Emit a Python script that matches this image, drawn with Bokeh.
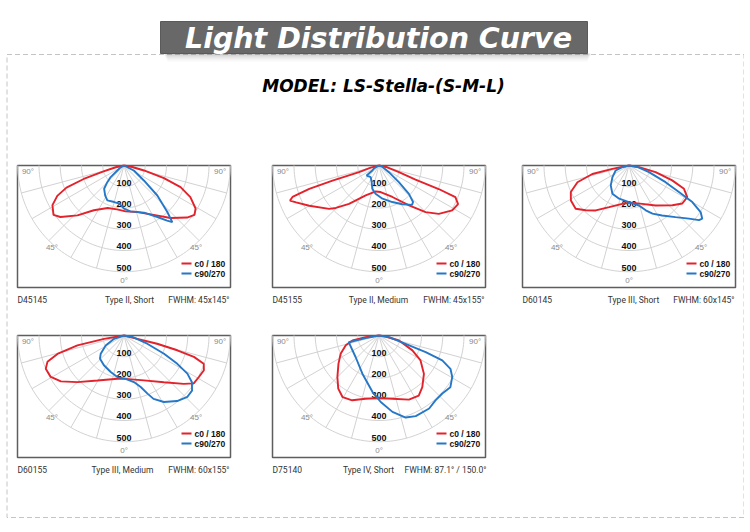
import math
import numpy as np
from bokeh.plotting import figure
from bokeh.models import Range1d
from bokeh.core.properties import value
from bokeh.embed import file_html
from bokeh.resources import INLINE

# ---------------- data ----------------
TITLE = "Light Distribution Curve"
SUBTITLE = "MODEL: LS-Stella-(S-M-L)"
RING_VALUES = [100, 200, 300, 400, 500]
RING_LABELS = ["100", "200", "300", "400", "500"]
RADIAL_ANGLES = [-75, -60, -45, -30, -15, 15, 30, 45, 60, 75]
SERIES_NAMES = ["c0 / 180", "c90/270"]

CODES = ["D45145", "D45155", "D60145", "D60155", "D75140"]
TYPES = ["Type II, Short", "Type II, Medium", "Type III, Short", "Type III, Medium", "Type IV, Short"]
FWHM = ["FWHM:  45x145°", "FWHM:  45x155°", "FWHM:  60x145°", "FWHM:  60x155°", "FWHM: 87.1° / 150.0°"]

# intensity curves: angle from nadir (deg, + = right) and candela
P1_C0_ANG = [-90, -78, -74, -71.5, -69, -65.5, -61, -55, -51, -43, -34, -21, -9, 2, 16, 31, 41.5, 50.5, 55, 59, 64.5, 69, 72.5, 76, 80, 90]
P1_C0_CD = [0, 40, 100, 200, 290, 345, 385, 405, 385, 321, 254, 214, 209, 216, 228, 271, 330, 385, 405, 393, 346, 285, 197, 97, 40, 0]
P1_C90_ANG = [-90, -60, -53, -49, -45, -40.5, -32, -25.5, -15, -7, 0, 8, 23, 33, 38, 40.5, 43, 48, 53, 63, 90]
P1_C90_CD = [0, 20, 39, 83, 111, 144, 167, 182, 178, 181, 203, 218, 241, 289, 329, 350, 299, 211, 117, 52, 0]

P2_C0_ANG = [-90, -76, -71.5, -72, -71.5, -70, -68.5, -66, -60, -49, -45.5, -38, -24, -7, 3.5, 23, 37, 45, 51, 58.5, 64, 67.5, 68.5, 69, 71.5, 78, 90]
P2_C0_CD = [0, 40, 99, 230, 346, 433, 450, 427, 379, 311, 285, 229, 154, 123, 125, 161, 235, 310, 362, 404, 414, 389, 302, 184, 99, 40, 0]
P2_C90_ANG = [-90, -60, -53, -51, -35.5, -24, -16, -7, 6, 20, 31, 40, 43, 46.5, 50, 56, 70, 90]
P2_C90_CD = [0, 25, 39, 75, 67, 85, 114, 134, 157, 183, 213, 242, 235, 194, 122, 56, 15, 0]

P3_C0_ANG = [-90, -78.5, -77, -72, -65.5, -59, -51, -44, -36.5, -25.5, -10, 2.5, 19, 33.5, 47.5, 54.5, 61.5, 67, 71, 76, 80.5, 90]
P3_C0_CD = [0, 80, 177, 255, 301, 319, 323, 293, 263, 217, 183, 175, 191, 226, 277, 308, 312, 281, 215, 129, 48, 0]
P3_C90_ANG = [-90, -75, -69.5, -55, -42.5, -30.5, -16.5, 0, 14, 20.5, 26, 33.5, 42, 48.5, 52, 54, 57, 60, 62, 65.5, 71.5, 80, 90]
P3_C90_CD = [0, 35, 67, 95, 127, 154, 163, 172, 194, 225, 252, 282, 327, 377, 418, 426, 402, 344, 266, 189, 99, 40, 0]

P4_C0_ANG = [-90, -80.5, -78, -74.5, -71, -67, -60.5, -54, -45, -30.5, -8.5, 2, 24, 40.5, 51, 55.5, 61, 66.5, 70.5, 73, 74.5, 76, 76, 90]
P4_C0_CD = [0, 95, 224, 325, 381, 400, 396, 367, 310, 246, 206, 204, 231, 289, 362, 398, 403, 410, 398, 344, 260, 161, 65, 0]
P4_C90_ANG = [-90, -71.5, -61.5, -52, -46, -34, -20, -9, 2, 12, 18, 22, 25, 31, 39, 46, 51, 55.5, 59, 62, 65.5, 70.5, 80, 90]
P4_C90_CD = [0, 49, 98, 139, 157, 169, 183, 198, 204, 224, 255, 295, 329, 365, 397, 415, 412, 388, 348, 284, 207, 116, 40, 0]

P5_C0_ANG = [-90, -83, -79.5, -73.5, -64.5, -55, -45, -37.5, -30.5, -22.5, -12, 0, 12, 25, 33.5, 40, 49.5, 59, 66, 76, 81.5, 90]
P5_C0_CD = [0, 63, 127, 163, 200, 233, 277, 315, 337, 330, 304, 294, 304, 333, 339, 317, 278, 228, 172, 97, 32, 0]
P5_C90_ANG = [-90, -79, -77.5, -47, -23.5, -6.5, 1.5, 10, 18, 24.5, 34.5, 41, 47.5, 54, 60.5, 65, 68.5, 70.5, 72.5, 80.5, 90]
P5_C90_CD = [0, 64, 146, 150, 196, 268, 313, 365, 406, 417, 417, 405, 404, 415, 396, 371, 320, 233, 131, 48, 0]

CURVES = [
    ((P1_C0_ANG, P1_C0_CD), (P1_C90_ANG, P1_C90_CD)),
    ((P2_C0_ANG, P2_C0_CD), (P2_C90_ANG, P2_C90_CD)),
    ((P3_C0_ANG, P3_C0_CD), (P3_C90_ANG, P3_C90_CD)),
    ((P4_C0_ANG, P4_C0_CD), (P4_C90_ANG, P4_C90_CD)),
    ((P5_C0_ANG, P5_C0_CD), (P5_C90_ANG, P5_C90_CD)),
]

# ---------------- layout / style ----------------
W, H = 744, 526
S = 106.25 / 500.0          # px per candela
BOX_W, BOX_H = 213, 122
PANEL_POS = [(17, 165), (272, 165), (522, 165), (17, 335), (272, 335)]
TYPE_CENTER = [112, 106, 111, 105, 96]
RED = "#e3222b"
BLUE = "#2577c8"
GRID = "#d2d2d2"
FONT = "Liberation Sans"
CAP_FONT = "Roboto"


def polar_xy(ang, cd):
    a = np.radians(np.asarray(ang, dtype=float))
    r = np.asarray(cd, dtype=float)
    return r * np.sin(a), -r * np.cos(a)


p = figure(width=W, height=H, x_range=Range1d(0, W), y_range=Range1d(H, 0),
           output_backend="svg", toolbar_location=None,
           x_axis_location=None, y_axis_location=None, min_border=0)
p.grid.visible = False
p.outline_line_color = None
p.background_fill_color = "white"
p.border_fill_color = "white"

xr_map, yr_map = {}, {}
for i, (left, top) in enumerate(PANEL_POS):
    cx = left + BOX_W / 2.0
    cy = top
    xr_map[f"x{i}"] = Range1d(-cx / S, (W - cx) / S)
    yr_map[f"y{i}"] = Range1d(-(H - cy) / S, cy / S)
p.extra_x_ranges = xr_map
p.extra_y_ranges = yr_map

# dashed outer frame
p.quad(left=[6.5], right=[743.5], top=[54], bottom=[517], fill_color=None,
       line_color="#c4c4c4", line_width=1, line_dash="5 3")

# title banner with shadow
for k, a in enumerate([0.12, 0.09, 0.06, 0.04]):
    p.quad(left=[164 + k], right=[590 - k], top=[53], bottom=[55 + 2 * k],
           fill_color="#555555", fill_alpha=a, line_color=None)
p.quad(left=[160], right=[587], top=[21], bottom=[53], fill_color="#686868",
       line_color="#5a5a5a", line_width=1)
p.text(x=[378], y=[37.5], text=[TITLE], text_color="white",
       text_font=value("DejaVu Sans"), text_font_style="bold italic",
       text_font_size="28.5px", text_align="center", text_baseline="middle")
p.text(x=[383], y=[85], text=[SUBTITLE], text_color="black",
       text_font=value("DejaVu Sans"), text_font_style="bold italic",
       text_font_size="17px", text_align="center", text_baseline="middle")

ring_ang = np.linspace(-90, 90, 91)
for i, (left, top) in enumerate(PANEL_POS):
    xr, yr = f"x{i}", f"y{i}"
    # box
    p.quad(left=[left], right=[left + BOX_W], top=[top], bottom=[top + BOX_H],
           fill_color="white", line_color="#5e5e5e", line_width=1.5)
    # rings
    xs, ys = [], []
    for r in RING_VALUES:
        x, y = polar_xy(ring_ang, [r] * len(ring_ang))
        xs.append(list(x)); ys.append(list(y))
    p.multi_line(xs=xs, ys=ys, line_color=GRID, line_width=1,
                 x_range_name=xr, y_range_name=yr)
    # radial lines
    x1, y1 = polar_xy(RADIAL_ANGLES, [max(RING_VALUES)] * len(RADIAL_ANGLES))
    p.segment(x0=[0] * len(x1), y0=[0] * len(x1), x1=list(x1), y1=list(y1),
              line_color=GRID, line_width=1, x_range_name=xr, y_range_name=yr)
    # ring labels
    p.text(x=[0] * len(RING_VALUES), y=[-(r - 19) for r in RING_VALUES], text=RING_LABELS,
           text_font=value(FONT), text_font_style="bold", text_font_size="9px",
           text_color="#111111", text_align="center", text_baseline="middle",
           x_range_name=xr, y_range_name=yr)
    # angle labels
    p.text(x=[-452, 452, -339, 339, 0], y=[-28, -28, -386, -386, -540],
           text=["90°", "90°", "45°", "45°", "0°"], text_font=value(FONT),
           text_font_size="8px", text_color="#8a8a8a", text_align="center",
           text_baseline="middle", x_range_name=xr, y_range_name=yr)
    # curves
    (a0, c0), (a1, c1) = CURVES[i]
    x, y = polar_xy(a0, c0)
    p.line(x=list(x), y=list(y), line_color=RED, line_width=1.9,
           x_range_name=xr, y_range_name=yr)
    x, y = polar_xy(a1, c1)
    p.line(x=list(x), y=list(y), line_color=BLUE, line_width=1.9,
           x_range_name=xr, y_range_name=yr)
    # legend
    right = left + BOX_W
    for k, (name, col) in enumerate(zip(SERIES_NAMES, [RED, BLUE])):
        yy = top + 98 + 10 * k
        p.segment(x0=[right - 49], y0=[yy], x1=[right - 39], y1=[yy],
                  line_color=col, line_width=2)
        p.text(x=[right - 36], y=[yy], text=[name], text_font=value(FONT),
               text_font_style="bold", text_font_size="8.5px", text_color="#111111",
               text_align="left", text_baseline="middle")
    # captions
    cy = top + BOX_H + 12
    p.text(x=[left], y=[cy], text=[CODES[i]], text_font=value(CAP_FONT),
           text_font_size="8.5px", text_color="#333333", text_align="left",
           text_baseline="middle")
    p.text(x=[left + TYPE_CENTER[i]], y=[cy], text=[TYPES[i]], text_font=value(CAP_FONT),
           text_font_size="8.5px", text_color="#333333", text_align="center",
           text_baseline="middle")
    p.text(x=[right + 1], y=[cy], text=[FWHM[i]], text_font=value(CAP_FONT),
           text_font_size="8.5px", text_color="#333333", text_align="right",
           text_baseline="middle")

open("out.html", "w").write(file_html(p, INLINE))
